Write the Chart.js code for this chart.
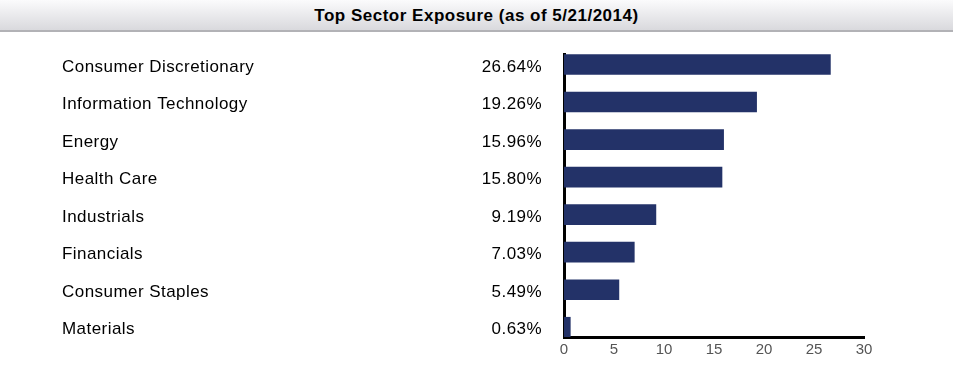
<!DOCTYPE html>
<html>
<head>
<meta charset="utf-8">
<script src="https://cdn.jsdelivr.net/npm/chart.js@4/dist/chart.umd.min.js"></script>
<style>
  html, body { margin: 0; padding: 0; background: #fff; }
  #wrap { position: relative; width: 953px; height: 368px; overflow: hidden; }
  #chart { position: absolute; left: 0; top: 0; }
  #title {
    position: absolute; left: 0; top: 0; width: 953px; height: 30px;
    background: linear-gradient(#fbfbfc, #d9d9dd);
    border-bottom: 2px solid #b2b2b6;
    text-align: center; line-height: 31px;
    font-family: "Liberation Sans", Arial, sans-serif;
    font-weight: bold; font-size: 17px; letter-spacing: 0.5px; color: #000;
  }
</style>
</head>
<body>
<div id="wrap">
  <canvas id="chart" width="953" height="368"></canvas>
  <div id="title">Top Sector Exposure (as of 5/21/2014)</div>
</div>
<script>
const categories = [
  "Consumer Discretionary",
  "Information Technology",
  "Energy",
  "Health Care",
  "Industrials",
  "Financials",
  "Consumer Staples",
  "Materials"
];
const weights = [26.64, 19.26, 15.96, 15.80, 9.19, 7.03, 5.49, 0.63];
const xMin = 0;
const xMax = 30;
const xStep = 5;

// labels on the left: sector name and its weight, placed on the bar rows
const rowLabels = {
  id: "rowLabels",
  afterDraw(chart) {
    const ctx = chart.ctx;
    const yScale = chart.scales.y;
    ctx.save();
    ctx.font = "17px 'Liberation Sans', Arial, sans-serif";
    ctx.letterSpacing = "0.45px";
    ctx.fillStyle = "#000";
    ctx.textBaseline = "middle";
    categories.forEach((name, i) => {
      const y = yScale.getPixelForValue(i) + 2.5;
      ctx.textAlign = "left";
      ctx.fillText(name, 62, y);
      ctx.textAlign = "right";
      ctx.fillText(weights[i].toFixed(2) + "%", 542, y);
    });
    ctx.restore();
  }
};

const ctx = document.getElementById("chart");
new Chart(ctx, {
  type: "bar",
  data: {
    datasets: [{
      data: weights.map((v, i) => ({x: v, y: i})),
      backgroundColor: "#233268",
      borderWidth: 0,
      barThickness: 20
    }]
  },
  options: {
    indexAxis: "y",
    responsive: false,
    animation: false,
    layout: {
      padding: {left: 564, right: 89, top: 54, bottom: 0}
    },
    plugins: {
      legend: {display: false},
      tooltip: {enabled: false}
    },
    scales: {
      x: {
        type: "linear",
        min: xMin,
        max: xMax,
        z: 1,
        grid: {display: false, drawTicks: false, tickLength: 0},
        border: {display: true, color: "#000", width: 3},
        ticks: {
          stepSize: xStep,
          padding: 4,
          color: "#555",
          font: {size: 15, family: "'Liberation Sans', Arial, sans-serif"}
        },
        afterFit(scale) { scale.height = 31; }
      },
      y: {
        type: "linear",
        min: -0.28,
        max: 7.26,
        reverse: true,
        offset: false,
        z: 1,
        grid: {display: false, offset: false},
        border: {display: true, color: "#000", width: 3},
        ticks: {display: false},
        afterFit(scale) { scale.width = 0; }
      }
    }
  },
  plugins: [rowLabels]
});
</script>
</body>
</html>
